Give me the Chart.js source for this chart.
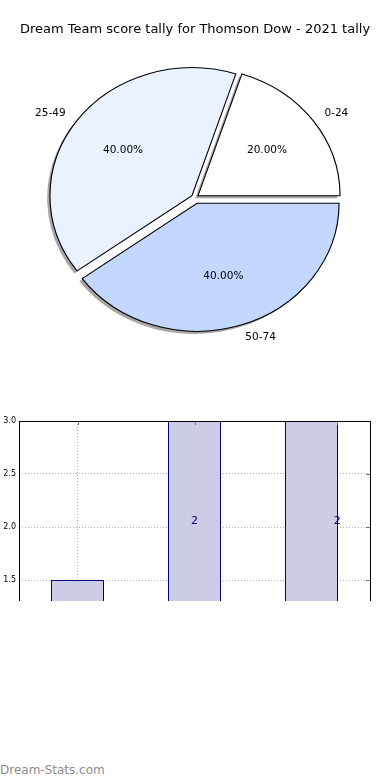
<!DOCTYPE html>
<html>
<head>
<meta charset="utf-8">
<script src="https://cdn.jsdelivr.net/npm/chart.js@4.4.1/dist/chart.umd.min.js"></script>
<style>
  body { margin: 0; background: #fff; width: 390px; height: 780px; position: relative; overflow: hidden; }
  #pieBox { position: absolute; left: 0; top: 0; width: 390px; height: 400px; }
  #barBox { position: absolute; left: 0; top: 400px; width: 390px; height: 201px; overflow: hidden; }
  #barInner { width: 390px; height: 360px; }
  #mark { position: absolute; left: 0; top: 763px; font: 12px "DejaVu Sans", sans-serif; color: #8c8c8c; }
</style>
</head>
<body>
<div id="pieBox"><canvas id="pieChart"></canvas></div>
<div id="barBox"><div id="barInner"><canvas id="barChart"></canvas></div></div>
<div id="mark">Dream-Stats.com</div>
<script>
const titleText = 'Dream Team score tally for Thomson Dow - 2021 tally';
const scoreRanges = ['0-24', '25-49', '50-74'];
const rangeCounts = [1, 2, 2];
const sliceColors = ['#ffffff', '#eaf1ff', '#c4d8ff'];
const explodePx = [3.4, 3.4, 6];

const barPositions = [1, 2, 3];
const barHeights = [1.5, 3.5, 3.5];
const gridTicksX = [1, 2, 3.22];

const FONT = '"DejaVu Sans", sans-serif';
const xStretch = 142 / 128;   // the pie is drawn as an ellipse
const shadowShift = { x: -2.8, y: 2.6 };

// chart.js goes clockwise, matplotlib counter-clockwise -> reverse
const order = [2, 1, 0];
const pieLabels = order.map(i => scoreRanges[i]);
const pieValues = order.map(i => rangeCounts[i]);
const pieColors = order.map(i => sliceColors[i]);
const pieExplode = order.map(i => explodePx[i]);

const mplPie = {
    id: 'mplPie',
    beforeDatasetsDraw(chart) {
        const ctx = chart.ctx;
        const arcs = chart.getDatasetMeta(0).data;
        const cx = arcs[0].x, cy = arcs[0].y;
        const total = pieValues.reduce((a, b) => a + b, 0);

        // shadows first
        arcs.forEach((arc, i) => {
            const mid = (arc.startAngle + arc.endAngle) / 2;
            const d = pieExplode[i];
            ctx.save();
            ctx.translate(cx + shadowShift.x, cy + shadowShift.y);
            ctx.scale(xStretch, 1);
            ctx.translate(Math.cos(mid) * d, Math.sin(mid) * d);
            ctx.beginPath();
            ctx.moveTo(0, 0);
            ctx.arc(0, 0, arc.outerRadius, arc.startAngle, arc.endAngle);
            ctx.closePath();
            ctx.fillStyle = 'rgba(77,77,77,0.5)';
            ctx.fill();
            ctx.restore();
        });

        arcs.forEach((arc, i) => {
            const mid = (arc.startAngle + arc.endAngle) / 2;
            const d = pieExplode[i];
            ctx.save();
            ctx.translate(cx, cy);
            ctx.scale(xStretch, 1);
            ctx.translate(Math.cos(mid) * d - cx, Math.sin(mid) * d - cy);
            arc.draw(ctx);
            ctx.restore();
        });

        ctx.save();
        ctx.font = '10.5px ' + FONT;
        ctx.fillStyle = '#000';
        ctx.textBaseline = 'middle';
        arcs.forEach((arc, i) => {
            const mid = (arc.startAngle + arc.endAngle) / 2;
            const d = pieExplode[i];
            const r = arc.outerRadius;
            const px = k => cx + xStretch * Math.cos(mid) * (d + k * r);
            const py = k => cy + Math.sin(mid) * (d + k * r);
            ctx.textAlign = Math.cos(mid) > 0 ? 'left' : 'right';
            ctx.fillText(pieLabels[i], px(1.1), py(1.1));
            ctx.textAlign = 'center';
            ctx.fillText((pieValues[i] / total * 100).toFixed(2) + '%', px(0.6), py(0.6));
        });
        ctx.restore();
        return false;
    }
};

new Chart(document.getElementById('pieChart'), {
    type: 'pie',
    data: {
        labels: pieLabels,
        datasets: [{
            data: pieValues,
            backgroundColor: pieColors,
            borderColor: '#000',
            borderWidth: 1,
            borderJoinStyle: 'miter',
            radius: 128
        }]
    },
    options: {
        responsive: true,
        maintainAspectRatio: false,
        animation: false,
        rotation: 90,
        layout: { padding: { bottom: 52.5 } },
        plugins: {
            legend: { display: false },
            tooltip: { enabled: false },
            title: {
                display: true,
                text: titleText,
                color: '#000',
                font: { family: FONT, size: 13, weight: 'normal' },
                padding: { top: 22.2, bottom: 10 }
            }
        }
    },
    plugins: [mplPie]
});

// frame + inward ticks on top/right
const frame = {
    id: 'frame',
    afterDraw(chart) {
        const { ctx, chartArea: a, scales } = chart;
        ctx.save();
        ctx.strokeStyle = '#777';
        ctx.lineWidth = 1;
        ctx.beginPath();
        scales.y.ticks.forEach(t => {
            const y = Math.round(scales.y.getPixelForValue(t.value)) + 0.5;
            ctx.moveTo(a.right - 4, y); ctx.lineTo(a.right, y);
        });
        gridTicksX.forEach(v => {
            const x = Math.round(scales.x.getPixelForValue(v)) + 0.5;
            ctx.moveTo(x, a.top); ctx.lineTo(x, a.top + 4);
        });
        ctx.stroke();
        ctx.strokeStyle = '#000';
        ctx.strokeRect(a.left + 0.5, a.top + 0.5, a.right - a.left, a.bottom - a.top);
        ctx.restore();
    }
};

const countLabels = {
    id: 'countLabels',
    afterDatasetsDraw(chart) {
        const { ctx, scales } = chart;
        ctx.save();
        ctx.font = '11px ' + FONT;
        ctx.fillStyle = '#000080';
        ctx.textAlign = 'center';
        ctx.textBaseline = 'bottom';
        rangeCounts.forEach((c, i) => {
            ctx.fillText(String(c), scales.x.getPixelForValue(gridTicksX[i]), scales.y.getPixelForValue(c));
        });
        ctx.restore();
    }
};

new Chart(document.getElementById('barChart'), {
    type: 'bar',
    data: {
        datasets: [{
            data: barPositions.map((x, i) => ({ x: x, y: barHeights[i] })),
            backgroundColor: '#ccccE6',
            borderColor: '#000080',
            borderWidth: 1,
            borderSkipped: false,
            barPercentage: 0.453,
            categoryPercentage: 1
        }]
    },
    options: {
        responsive: true,
        maintainAspectRatio: false,
        animation: false,
        layout: { padding: { top: 21, right: 20, bottom: 21, left: 0 } },
        plugins: { legend: { display: false }, tooltip: { enabled: false } },
        scales: {
            x: {
                type: 'linear',
                min: 0.5,
                max: 3.5,
                offset: false,
                z: 1,
                afterBuildTicks: s => { s.ticks = gridTicksX.map(v => ({ value: v })); },
                ticks: { display: false },
                grid: { color: '#b0b0b0', drawTicks: false, offset: false },
                border: { display: false, dash: [1, 2] }
            },
            y: {
                min: 0,
                max: 3,
                z: 1,
                ticks: {
                    stepSize: 0.5,
                    callback: v => v.toFixed(1),
                    color: '#000',
                    font: { family: FONT, size: 8 },
                    padding: 3
                },
                grid: { color: '#b0b0b0', drawTicks: false },
                border: { display: false, dash: [1, 2] },
                afterFit: s => { s.width = 19; }
            }
        }
    },
    plugins: [countLabels, frame]
});
</script>
</body>
</html>
